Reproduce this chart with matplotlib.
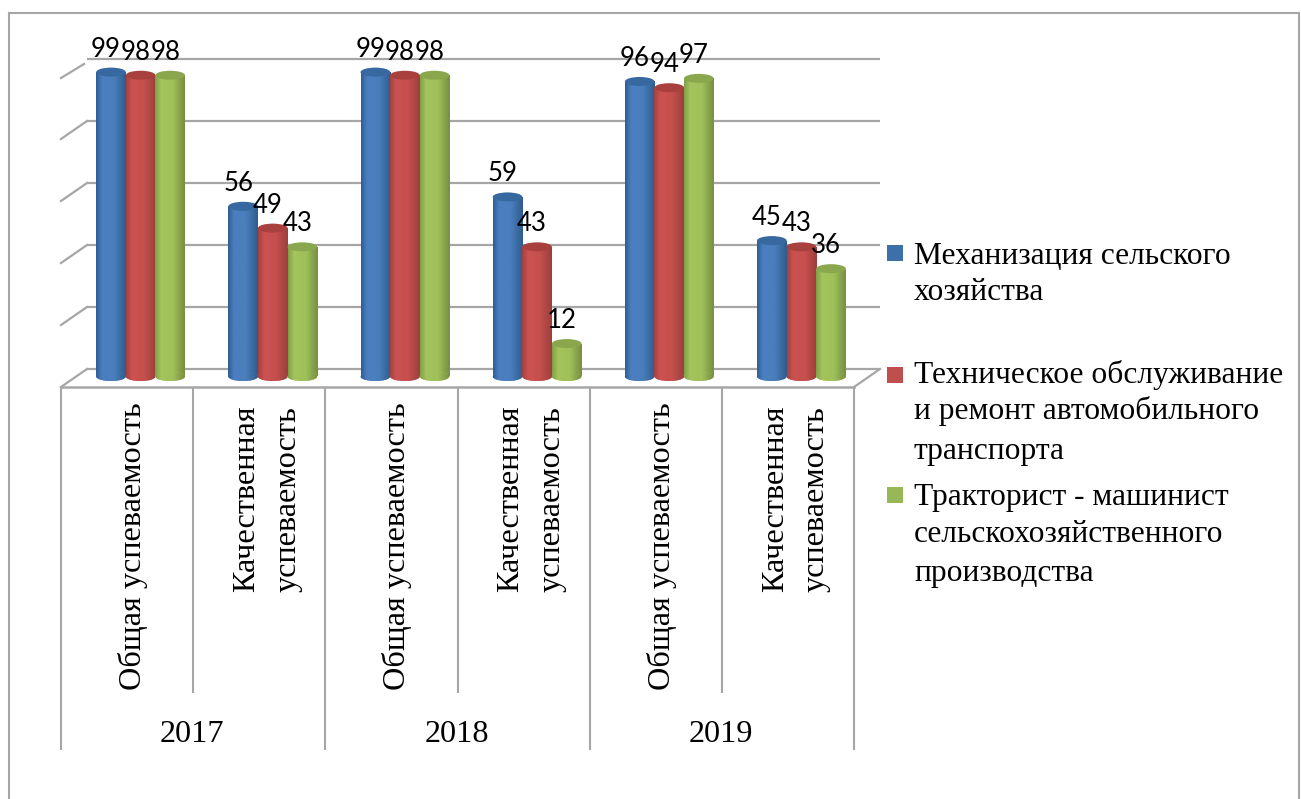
import numpy as np
import matplotlib
matplotlib.use("Agg")
import matplotlib.pyplot as plt
from matplotlib.colors import LinearSegmentedColormap
from matplotlib.patches import Ellipse, Rectangle

# ---------- data ----------
years = ["2017", "2018", "2019"]
categories = ["Общая успеваемость", "Качественная\nуспеваемость"] * 3
series_names = [
    "Механизация сельского\nхозяйства",
    "Техническое обслуживание\nи ремонт автомобильного\nтранспорта",
    "Тракторист - машинист\nсельскохозяйственного\nпроизводства",
]
mech = [99, 56, 99, 59, 96, 45]
tech = [98, 49, 98, 43, 94, 43]
tract = [98, 43, 98, 12, 97, 36]
wall_ticks = [0, 20, 40, 60, 80, 100]

# ---------- styles ----------
W, H = 1301, 799
GREY = "#a6a6a6"
SERIF = "Liberation Serif"
LABEL_FONT = "Lato"
gradients = [
    ["#2f5e94", "#4a7fc0", "#4a7ebb", "#2f5c8e"],
    ["#a0423f", "#cb5250", "#c6504e", "#9c3f3c"],
    ["#80a048", "#a4c45d", "#9fc05a", "#778f40"],
]
top_cols = ["#37689f", "#a8403d", "#8aa74e"]
legend_cols = ["#3d70a8", "#bf4f4c", "#98b857"]

fig = plt.figure(figsize=(W / 100, H / 100), dpi=100, facecolor="white")

# pixel-space layer for frame, wall and text
deco = fig.add_axes([0, 0, 1, 1], zorder=1)
deco.set_xlim(0, W); deco.set_ylim(H, 0); deco.axis("off")

# data layer
PX_X, X0 = 132.17, 61.0
PX_Y, Y0 = 3.12, 381.0
BAR_SHIFT = 13.5 / PX_X
ax = fig.add_axes([0, 0, 1, 1], zorder=2)
ax.patch.set_alpha(0)
xlim = ((0 - X0) / PX_X - 0.5, (W - X0) / PX_X - 0.5)
ylim = ((Y0 - H) / PX_Y, Y0 / PX_Y)
ax.axis("off")

# frame
deco.plot([9, 9], [H, 13], color=GREY, lw=1.5)
deco.plot([9, 1299], [13, 13], color=GREY, lw=1.5)
deco.plot([1299, 1299], [13, H], color=GREY, lw=1.5)

# wall gridlines and slanted ticks
for v in wall_ticks:
    yp = 369 - v * 3.1
    deco.plot([87, 880], [yp, yp], color=GREY, lw=1.6, solid_capstyle="butt")
    if v == 100:
        deco.plot([84, 61], [yp + 5, yp + 19], color=GREY, lw=1.6)
    else:
        deco.plot([87, 61], [yp, yp + 18], color=GREY, lw=1.6)

# floor front edge and right side
deco.plot([61, 854], [387, 387], color=GREY, lw=1.8)
deco.plot([854, 880], [387, 369], color=GREY, lw=1.6)

# category table lines
for i in range(7):
    xp = X0 + i * PX_X
    deco.plot([xp, xp], [387, 750 if i % 2 == 0 else 693], color=GREY, lw=1.5,
              solid_capstyle="butt")

# bars
x = np.arange(len(categories)) + BAR_SHIFT
bw = 29.6 / PX_X
ell_h = 9 / PX_Y
base = 4.5 / PX_Y
all_series = [mech, tech, tract]
for s, vals in enumerate(all_series):
    cmap = LinearSegmentedColormap.from_list("c", list(zip([0, 0.2, 0.6, 1], gradients[s])))
    xs = x + (s - 1) * bw
    bars = ax.bar(xs, np.array(vals) - base, bottom=base, width=bw, color=gradients[s][1],
                  linewidth=0, zorder=3 + s)
    grad = np.linspace(0, 1, 64).reshape(1, -1)
    for xc, v, bar in zip(xs, vals, bars):
        left, right = xc - bw / 2, xc + bw / 2
        im = ax.imshow(grad, cmap=cmap, extent=(left, right, 0, v), aspect="auto",
                       zorder=3 + s, interpolation="bilinear")
        im.set_clip_path(bar)
        bot = Ellipse((xc, base), bw, ell_h, facecolor=gradients[s][1], linewidth=0, zorder=3 + s)
        ax.add_patch(bot)
        im2 = ax.imshow(grad, cmap=cmap, extent=(left, right, 0, 2 * base), aspect="auto",
                        zorder=3 + s, interpolation="bilinear")
        im2.set_clip_path(bot)
        ax.add_patch(Ellipse((xc, v), bw, ell_h, facecolor=top_cols[s], linewidth=0,
                             zorder=3.1 + s))
ax.set_xlim(*xlim); ax.set_ylim(*ylim)

# value labels
for s, vals in enumerate(all_series):
    xs = x + (s - 1) * bw
    for xc, v in zip(xs, vals):
        ax.annotate(str(v), (xc, v), xytext=(-5, 23), textcoords="offset pixels",
                    ha="center", va="center", fontsize=18.5, family=LABEL_FONT,
                    color="black", zorder=10)

# category labels
for i, cat in enumerate(categories):
    xp = X0 + (i + 0.5) * PX_X + (6 if i % 2 == 0 else 8)
    deco.text(xp, 402 if i % 2 == 0 else 406, cat, rotation=90, ha="center", va="top",
              fontsize=23.2, family=SERIF, linespacing=1.55, multialignment="center")

# year labels
for i, y in enumerate(years):
    deco.text(X0 + (2 * i + 1) * PX_X - 1, 734, y, ha="center", va="center",
              fontsize=23.2, family=SERIF)

# legend
legend_first_line = [256, 375, 498]
legend_box = [245, 367, 487]
line_steps = [0, 36, 76]
for name, y0, yb, col in zip(series_names, legend_first_line, legend_box, legend_cols):
    deco.add_patch(Rectangle((887, yb), 16, 16, facecolor=col, edgecolor="none"))
    for j, line in enumerate(name.split("\n")):
        deco.text(914, y0 + line_steps[j], line, ha="left", va="center", fontsize=22.7, family=SERIF)

fig.savefig("out.png", dpi=100, facecolor="white")
